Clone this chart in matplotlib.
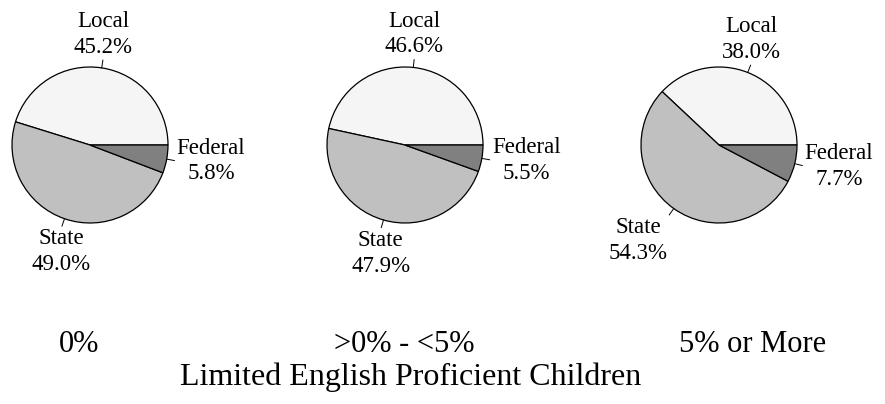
import numpy as np
import matplotlib
matplotlib.use("Agg")
import matplotlib.pyplot as plt

plt.rcParams['font.family'] = ['Liberation Serif', 'DejaVu Serif']

# data
SOURCES = ['Local', 'State', 'Federal']
GROUPS = ['0%', '>0% - <5%', '5% or More']
SHARES = [
    [45.2, 49.0, 5.8],
    [46.6, 47.9, 5.5],
    [38.0, 54.3, 7.7],
]
TITLE = 'Limited English Proficient Children'

COLORS = ['#f5f5f5', '#c0c0c0', '#808080']

# layout (pixel units, y measured up from the bottom)
W, H = 885, 404
CENTERS_X = [90, 405, 719]
CENTER_Y = 259
RADIUS = 78
GROUP_X = [79, 404, 753]
GROUP_Y = 59
TITLE_X, TITLE_Y = 411, 27

fig = plt.figure(figsize=(W / 100, H / 100), dpi=100)
ax = fig.add_axes([0, 0, 1, 1])


def label_pie(ax, cx, cy, r, vals, names):
    start = 0.0
    total = sum(vals)
    for v, name in zip(vals, names):
        mid = np.radians(start + 360.0 * v / total / 2)
        start += 360.0 * v / total
        c, s = np.cos(mid), np.sin(mid)
        # little leader tick
        ax.plot([cx + r * c, cx + 1.1 * r * c], [cy + r * s, cy + 1.1 * r * s],
                color='black', lw=0.7)
        if c > 0.5:
            ha = 'left'
        elif c < -0.5:
            ha = 'right'
        else:
            ha = 'center'
        if abs(s) < 0.5:
            va = 'center'
        elif s > 0:
            va = 'bottom'
        else:
            va = 'top'
        ax.text(cx + 1.13 * r * c, cy + 1.13 * r * s, '%s\n%.1f%%' % (name, v),
                ha=ha, va=va, multialignment='center', fontsize=16.5,
                linespacing=1.3)


for cx, vals in zip(CENTERS_X, SHARES):
    ax.pie(vals, colors=COLORS, startangle=0, counterclock=True,
           center=(cx, CENTER_Y), radius=RADIUS,
           wedgeprops=dict(edgecolor='black', linewidth=0.9))
    label_pie(ax, cx, CENTER_Y, RADIUS, vals, SOURCES)

for gx, g in zip(GROUP_X, GROUPS):
    ax.text(gx, GROUP_Y, g, ha='center', va='center', fontsize=22)

ax.text(TITLE_X, TITLE_Y, TITLE, ha='center', va='center', fontsize=23)

ax.set_xlim(0, W)
ax.set_ylim(0, H)
ax.set_aspect('equal')
ax.axis('off')

fig.savefig('out.png', dpi=100, facecolor='white')
